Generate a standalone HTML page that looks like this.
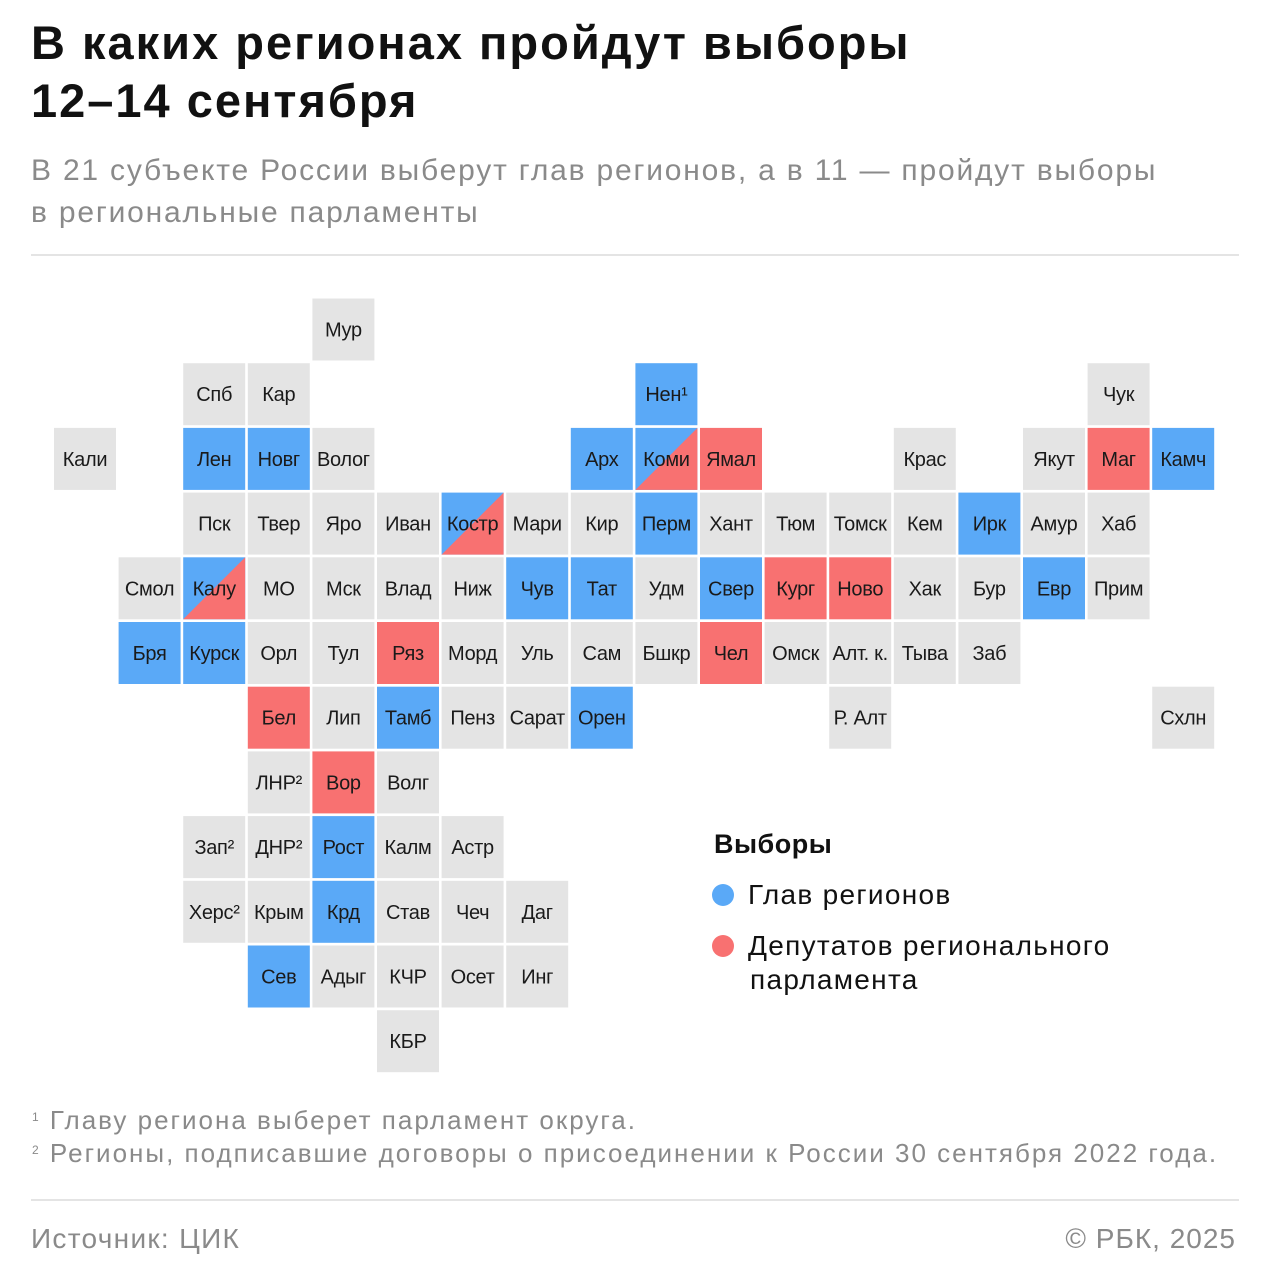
<!DOCTYPE html>
<html><head><meta charset="utf-8"><style>
body{margin:0;width:1268px;height:1280px;background:#fff;font-family:"Liberation Sans","Noto Sans CJK SC",sans-serif;position:relative;overflow:hidden;color:#111}
.a{position:absolute;white-space:nowrap}
sup{font-size:12px;vertical-align:8px;margin-left:1px;line-height:0}
</style></head><body>
<div class="a" style="left:31px;top:14px;font-size:47px;font-weight:bold;line-height:58px;letter-spacing:2px">В каких регионах пройдут выборы<br>12–14 сентября</div>
<div class="a" style="left:31px;top:150px;font-size:30px;line-height:42px;color:#8a8a8a;letter-spacing:1.8px">В 21 субъекте России выберут глав регионов, а в 11 — пройдут выборы<br>в региональные парламенты</div>
<div class="a" style="left:31px;top:254px;width:1208px;height:2px;background:#e4e4e4"></div>
<svg class="a" style="left:0;top:0" width="1268" height="1100" id="map"></svg>
<div class="a" style="left:714px;top:829px;font-size:27px;font-weight:bold;letter-spacing:0.5px">Выборы</div>
<div class="a" style="left:712px;top:879px;font-size:28px;letter-spacing:1.3px"><span style="display:inline-block;width:22px;height:22px;border-radius:50%;background:#5aa9f7;vertical-align:-2px;margin-right:14px"></span>Глав регионов</div>
<div class="a" style="left:712px;top:929px;font-size:28px;line-height:34px;letter-spacing:1.3px"><span style="display:inline-block;width:22px;height:22px;border-radius:50%;background:#f87171;vertical-align:-2px;margin-right:14px"></span>Депутатов регионального<br><span style="margin-left:38px">парламента</span></div>
<div class="a" style="left:31px;top:1104px;font-size:26px;line-height:33px;color:#8a8a8a;letter-spacing:2px"><sup>1</sup> Главу региона выберет парламент округа.<br><sup>2</sup> Регионы, подписавшие договоры о присоединении к России 30 сентября 2022 года.</div>
<div class="a" style="left:31px;top:1199px;width:1208px;height:2px;background:#e4e4e4"></div>
<div class="a" style="left:31px;top:1223px;font-size:28px;color:#8a8a8a;letter-spacing:1.3px">Источник: ЦИК</div>
<div class="a" style="right:32px;top:1223px;font-size:28px;color:#8a8a8a;letter-spacing:1px">© РБК, 2025</div>
<script>
const names=["Мур","Спб","Кар","Нен¹","Чук","Кали","Лен","Новг","Волог","Арх","Коми","Ямал","Крас","Якут","Маг","Камч","Пск","Твер","Яро","Иван","Костр","Мари","Кир","Перм","Хант","Тюм","Томск","Кем","Ирк","Амур","Хаб","Смол","Калу","МО","Мск","Влад","Ниж","Чув","Тат","Удм","Свер","Кург","Ново","Хак","Бур","Евр","Прим","Бря","Курск","Орл","Тул","Ряз","Морд","Уль","Сам","Бшкр","Чел","Омск","Алт. к.","Тыва","Заб","Бел","Лип","Тамб","Пенз","Сарат","Орен","Р. Алт","Схлн","ЛНР²","Вор","Волг","Зап²","ДНР²","Рост","Калм","Астр","Херс²","Крым","Крд","Став","Чеч","Даг","Сев","Адыг","КЧР","Осет","Инг","КБР"];
const cols=[4,2,3,9,16,0,2,3,4,8,9,10,13,15,16,17,2,3,4,5,6,7,8,9,10,11,12,13,14,15,16,1,2,3,4,5,6,7,8,9,10,11,12,13,14,15,16,1,2,3,4,5,6,7,8,9,10,11,12,13,14,3,4,5,6,7,8,12,17,3,4,5,2,3,4,5,6,2,3,4,5,6,7,3,4,5,6,7,5];
const rows=[0,1,1,1,1,2,2,2,2,2,2,2,2,2,2,2,3,3,3,3,3,3,3,3,3,3,3,3,3,3,3,4,4,4,4,4,4,4,4,4,4,4,4,4,4,4,4,5,5,5,5,5,5,5,5,5,5,5,5,5,5,6,6,6,6,6,6,6,6,7,7,7,8,8,8,8,8,9,9,9,9,9,9,10,10,10,10,10,11];
// g=gray, b=governor, r=parliament, s=both
const types=["g","g","g","b","g","g","b","b","g","b","s","r","g","g","r","b","g","g","g","g","s","g","g","b","g","g","g","g","b","g","g","g","s","g","g","g","g","b","b","g","b","r","r","g","g","b","g","b","b","g","g","r","g","g","g","g","r","g","g","g","g","r","g","b","g","g","b","g","g","g","r","g","g","g","b","g","g","g","g","b","g","g","g","b","g","g","g","g","g"];
const svg=document.getElementById('map');const NS="http://www.w3.org/2000/svg";
const X=c=>54+c*64.6, Y=r=>298.5+r*64.7, S=62;
const col={g:"#e4e4e4",b:"#5aa9f7",r:"#f87171"};
names.forEach((n,i)=>{
 const x=X(cols[i]),y=Y(rows[i]),t=types[i];
 const g=document.createElementNS(NS,'g');
 
 
 const r=document.createElementNS(NS,'rect');
 r.setAttribute('x',x);r.setAttribute('y',y);r.setAttribute('width',S);r.setAttribute('height',S);
 r.setAttribute('fill',t==='s'?col.b:col[t]);g.appendChild(r);
 if(t==='s'){const p=document.createElementNS(NS,'polygon');
  p.setAttribute('points',`${x},${y+S} ${x+S},${y} ${x+S},${y+S}`);p.setAttribute('fill',col.r);g.appendChild(p);}
 const tx=document.createElementNS(NS,'text');
 tx.setAttribute('x',x+S/2);tx.setAttribute('y',y+S/2+7);tx.setAttribute('text-anchor','middle');
 tx.setAttribute('font-size','20');tx.setAttribute('fill','#1a1a1a');
 tx.setAttribute('font-family','"Liberation Sans",sans-serif');
 tx.setAttribute('letter-spacing','-0.3');
 tx.textContent=n;g.appendChild(tx);svg.appendChild(g);
});
</script>
</body></html>
